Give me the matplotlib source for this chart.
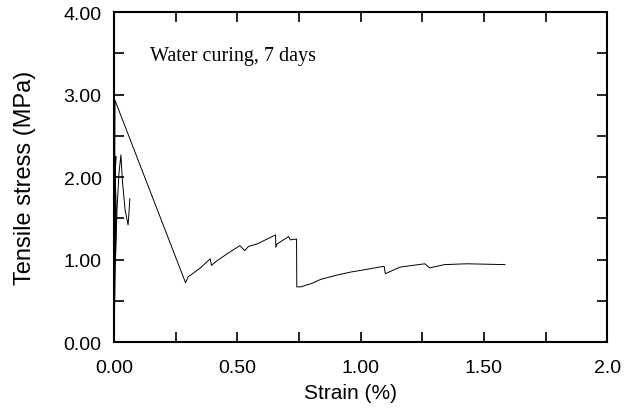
"""
Tensile stress-strain curve, water curing 7 days.
"""

import matplotlib
matplotlib.use("Agg")
import matplotlib.pyplot as plt
from matplotlib.ticker import MultipleLocator

# ── data ───────────────────────────────────────────────────────────────────
# main specimen: loading near zero strain, peak, softening branch, then
# multiple-cracking plateau
strain_main = [0.000, 0.002, 0.003, 0.004, 0.290, 0.300, 0.350, 0.390, 0.395,
               0.410, 0.458, 0.510, 0.530, 0.545, 0.580, 0.655, 0.656, 0.661,
               0.708, 0.715, 0.740, 0.741, 0.756, 0.800, 0.837, 0.900, 0.960,
               1.020, 1.095, 1.100, 1.160, 1.260, 1.280, 1.340, 1.430, 1.585]
stress_main = [0.00, 1.20, 2.30, 2.93, 0.72, 0.79, 0.90, 1.01, 0.93,
               0.97, 1.07, 1.17, 1.11, 1.16, 1.19, 1.30, 1.15, 1.19,
               1.28, 1.24, 1.25, 0.67, 0.67, 0.71, 0.76, 0.81, 0.85,
               0.88, 0.92, 0.83, 0.91, 0.95, 0.90, 0.94, 0.95, 0.94]

# second trace near the origin (short loop)
strain_loop = [0.000, 0.005, 0.012, 0.020, 0.028, 0.034, 0.045, 0.057, 0.059, 0.064]
stress_loop = [0.00, 0.90, 1.60, 2.05, 2.27, 1.95, 1.60, 1.42, 1.50, 1.74]

# extra loading lines hugging the y axis
strain_edge = [0.000, 0.001, 0.004, 0.002, 0.006, 0.003, 0.008, 0.004]
stress_edge = [0.00, 0.80, 1.40, 1.90, 2.25, 2.00, 1.60, 1.00]

x_ticks = [0.0, 0.5, 1.0, 1.5, 2.0]
x_ticklabels = ["0.00", "0.50", "1.00", "1.50", "2.0"]
y_ticks = [0.0, 1.0, 2.0, 3.0, 4.0]
y_ticklabels = ["0.00", "1.00", "2.00", "3.00", "4.00"]

plt.rcParams["font.family"] = ["Liberation Sans", "DejaVu Sans"]

fig = plt.figure(figsize=(6.3, 4.1), dpi=100)
ax = fig.add_axes([0.181, 0.163, 0.783, 0.805])

ax.plot(strain_main, stress_main, color="k", lw=0.7)
ax.plot(strain_loop, stress_loop, color="k", lw=0.7)
ax.plot(strain_edge, stress_edge, color="k", lw=1.2)

ax.set_xlim(0, 2.0)
ax.set_ylim(0, 4.0)
ax.set_xticks(x_ticks)
ax.set_xticklabels(x_ticklabels, fontsize=14)
ax.set_yticks(y_ticks)
ax.set_yticklabels(y_ticklabels, fontsize=14)
ax.xaxis.set_minor_locator(MultipleLocator(0.25))
ax.yaxis.set_minor_locator(MultipleLocator(0.5))

ax.tick_params(which="both", direction="in", top=True, right=True,
               length=7.5, width=1.2)
ax.tick_params(axis="x", pad=12)
ax.tick_params(axis="y", pad=9)
for sp in ax.spines.values():
    sp.set_linewidth(1.5)

ax.set_xlabel("Strain (%)", fontsize=15)
ax.set_ylabel("Tensile stress (MPa)", fontsize=17)
ax.xaxis.set_label_coords(0.48, -0.125)
ax.yaxis.set_label_coords(-0.158, 0.5)

ax.text(0.146, 3.47, "Water curing, 7 days", family="Liberation Serif",
        fontsize=14.5, va="center", ha="left")

fig.savefig("out.png", dpi=100)
